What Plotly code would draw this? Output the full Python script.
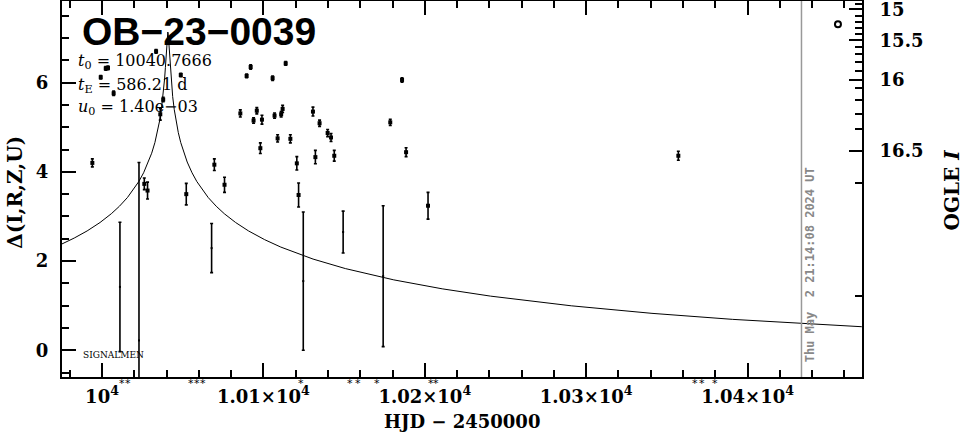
import plotly.graph_objects as go

# ---------------- data ----------------
# well-measured points (filled squares, small error bars)
sq_t = [9994.0, 9999.2, 10002.3, 10003.7, 10007.2, 10026.2, 10028.2, 10033.5, 10036.1, 10037.9,
        10048.8, 10052.2, 10069.6, 10075.9, 10085.7, 10089.6, 10092.1, 10093.9, 10095.9, 10098.1,
        10099.1, 10105.7, 10106.9, 10108.8, 10111.0, 10111.9, 10113.8, 10116.7, 10120.7, 10121.8,
        10130.7, 10132.2, 10134.8, 10139.8, 10141.9, 10143.9, 10178.6, 10185.9, 10188.4, 10202.0,
        10357.1]
sq_v = [4.20, 6.12, 6.32, 6.33, 5.76, 3.73, 3.58, 6.70, 5.29, 5.62,
        6.17, 3.50, 4.16, 3.71, 5.31, 6.15, 6.35, 5.15, 5.37, 4.53,
        5.17, 6.10, 5.26, 4.75, 5.29, 5.41, 6.43, 4.74, 4.19, 3.48,
        5.35, 4.33, 5.09, 4.87, 4.77, 4.36, 5.11, 6.06, 4.44, 3.24,
        4.36]
sq_e = [0.09, 0.04, 0.04, 0.04, 0.05, 0.13, 0.19, 0.04, 0.13, 0.05,
        0.04, 0.24, 0.13, 0.17, 0.08, 0.04, 0.05, 0.06, 0.07, 0.12,
        0.10, 0.05, 0.06, 0.08, 0.06, 0.08, 0.04, 0.09, 0.15, 0.27,
        0.10, 0.15, 0.07, 0.08, 0.09, 0.12, 0.07, 0.05, 0.10, 0.30,
        0.10]

# poorly-measured points (large error bars)
big_t = [10011.1, 10022.9, 10067.9, 10124.7, 10149.4, 10174.2]
big_v = [1.42, 0.22, 2.29, 1.55, 2.65, 1.66]
big_e = [1.45, 3.99, 0.55, 1.55, 0.47, 1.58]

# open circle at top right
circ_t = [10456.0]
circ_v = [7.31]

# model curve
curve_t = [9975.00, 9982.77, 9990.77, 9998.77, 10005.77, 10010.77, 10015.77, 10022.77,
           10025.77, 10028.77, 10030.77, 10032.77, 10034.27, 10035.77, 10036.77, 10037.77,
           10038.27, 10038.77, 10039.27, 10039.77, 10040.27, 10040.52, 10040.77,
           10041.02, 10041.27, 10041.77, 10042.27, 10042.77, 10043.27, 10043.77, 10044.77,
           10045.77, 10047.27, 10048.77, 10050.77, 10052.77, 10055.77, 10058.77, 10065.77,
           10070.77, 10075.77, 10082.77, 10090.77, 10100.77, 10110.77, 10130.77, 10150.77,
           10180.77, 10210.77, 10240.77, 10290.77, 10340.77, 10390.77, 10440.77, 10470.77]
curve_v = [2.380, 2.515, 2.675, 2.864, 3.061, 3.228, 3.425, 3.781,
           3.979, 4.220, 4.417, 4.657, 4.879, 5.158, 5.393, 5.688,
           5.870, 6.083, 6.338, 6.641, 6.963, 7.087, 7.134,
           7.087, 6.963, 6.641, 6.338, 6.083, 5.870, 5.688, 5.393,
           5.158, 4.879, 4.657, 4.417, 4.220, 3.979, 3.781, 3.425,
           3.228, 3.061, 2.864, 2.675, 2.479, 2.313, 2.044, 1.831,
           1.578, 1.377, 1.213, 0.996, 0.827, 0.692, 0.582, 0.527]

# star marks below the time axis
star_t = [10012.6, 10016.3, 10055.3, 10059.0, 10062.8, 10123.5, 10153.8, 10158.8,
          10170.6, 10204.0, 10207.2, 10367.6, 10372.0, 10380.0]

# axis ticks
x_tickvals = [10000, 10100, 10200, 10300, 10400]
x_ticktext = ["10<sup>4</sup>", "1.01×10<sup>4</sup>", "1.02×10<sup>4</sup>",
              "1.03×10<sup>4</sup>", "1.04×10<sup>4</sup>"]
x_minor = [9980, 10020, 10040, 10060, 10080, 10120, 10140, 10160, 10180, 10220, 10240,
           10260, 10280, 10320, 10340, 10360, 10380, 10420, 10440, 10460]
y_tickvals = [0, 2, 4, 6]
y_minor = [-0.5, 0.5, 1, 1.5, 2.5, 3, 3.5, 4.5, 5, 5.5, 6.5, 7, 7.5]

# right axis: OGLE I magnitudes and their positions on the left scale
mag_labels = ["15", "15.5", "16", "16.5"]
mag_pos = [7.64, 6.95, 6.07, 4.47]
mag_minor_pos = [7.76, 7.49, 7.36, 7.23, 7.10, 6.79, 6.64, 6.47, 6.26,
                 5.88, 5.61, 5.30, 4.97, 3.74, 1.21]

now_t = 10433.4
params = ["<i>t</i><sub>0</sub> = 10040.7666", "<i>t</i><sub>E</sub> = 586.21 d",
          "<i>u</i><sub>0</sub> = 1.40e−03"]

X_RANGE = [9975.2, 10470.9]
Y_RANGE = [-0.6, 7.83]

# ---------------- figure ----------------
fig = go.Figure()

fig.add_trace(go.Scatter(x=curve_t, y=curve_v, mode="lines",
                         line=dict(color="black", width=1), hoverinfo="skip"))

fig.add_trace(go.Scatter(x=big_t, y=big_v, mode="markers",
                         marker=dict(symbol="square", size=2, color="black"),
                         error_y=dict(type="data", array=big_e, color="black",
                                      thickness=1.6, width=1.5)))

fig.add_trace(go.Scatter(x=sq_t, y=sq_v, mode="markers",
                         marker=dict(symbol="square", size=4, color="black"),
                         error_y=dict(type="data", array=sq_e, color="black",
                                      thickness=1.6, width=1.5)))

fig.add_trace(go.Scatter(x=circ_t, y=circ_v, mode="markers",
                         marker=dict(symbol="circle-open", size=6, color="black",
                                     line=dict(width=2, color="black"))))

# dummy trace so the right axis is drawn
fig.add_trace(go.Scatter(x=[X_RANGE[0]], y=[-5], yaxis="y2", mode="markers",
                         marker=dict(size=1, color="rgba(0,0,0,0)"), hoverinfo="skip"))

fig.add_shape(type="line", xref="x", yref="paper", x0=now_t, x1=now_t, y0=0, y1=1,
              line=dict(color="#999999", width=1.5))

tickfont = dict(family="DejaVu Serif", size=18, color="black", weight="bold")

fig.update_layout(
    width=965, height=434,
    margin=dict(l=62, r=103, t=1, b=57),
    paper_bgcolor="white", plot_bgcolor="white",
    showlegend=False,
    xaxis=dict(range=X_RANGE, showgrid=False, zeroline=False, automargin=False,
               showline=True, linecolor="black", linewidth=2, mirror="ticks",
               ticks="inside", ticklen=14, tickwidth=2, tickcolor="black",
               tickmode="array", tickvals=x_tickvals, ticktext=x_ticktext,
               tickfont=tickfont, ticklabelstandoff=2,
               minor=dict(tickmode="array", tickvals=x_minor, ticks="inside",
                          ticklen=7, tickwidth=2, tickcolor="black")),
    yaxis=dict(range=Y_RANGE, showgrid=False, zeroline=False, automargin=False,
               showline=True, linecolor="black", linewidth=2,
               ticks="inside", ticklen=14, tickwidth=2, tickcolor="black",
               tickmode="array", tickvals=y_tickvals,
               tickfont=tickfont, ticklabelstandoff=8,
               minor=dict(tickmode="array", tickvals=y_minor, ticks="inside",
                          ticklen=7, tickwidth=2, tickcolor="black")),
    yaxis2=dict(range=Y_RANGE, overlaying="y", side="right", showgrid=False,
                zeroline=False, automargin=False, showline=True, linecolor="black",
                linewidth=2, ticks="inside", ticklen=13, tickwidth=2, tickcolor="black",
                tickmode="array", tickvals=mag_pos, ticktext=mag_labels,
                tickfont=tickfont, ticklabelstandoff=12, ticklabeloverflow="allow",
                minor=dict(tickmode="array", tickvals=mag_minor_pos, ticks="inside",
                           ticklen=7, tickwidth=2, tickcolor="black")),
)

ann = []
ann.append(dict(text="OB−23−0039", xref="paper", yref="paper", x=0.023, y=0.918,
                xanchor="left", yanchor="middle", showarrow=False,
                font=dict(family="Liberation Sans", size=39, color="black", weight="bold")))
for i, p in enumerate(params):
    ann.append(dict(text=p, xref="paper", yref="paper", x=0.018, y=[0.840, 0.776, 0.717][i],
                    xanchor="left", yanchor="middle", showarrow=False,
                    font=dict(family="DejaVu Serif", size=16, color="black")))
ann.append(dict(text="SIGNALMEN", xref="paper", yref="paper", x=0.024, y=0.059,
                xanchor="left", yanchor="middle", showarrow=False,
                font=dict(family="DejaVu Serif", size=9, color="black")))
for st in star_t:
    ann.append(dict(text="*", xref="x", yref="paper", x=st, y=0, yanchor="top",
                    yshift=2, showarrow=False,
                    font=dict(family="DejaVu Sans", size=11, color="black")))
ann.append(dict(text="HJD\u00a0−\u00a02450000", xref="paper", yref="paper", x=0.5, y=0,
                xanchor="center", yanchor="middle", yshift=-44, showarrow=False,
                font=dict(family="DejaVu Serif", size=18, color="black", weight="bold")))
ann.append(dict(text="Δ(I,R,Z,U)", xref="paper", yref="paper", x=-0.059, y=0.492,
                xanchor="center", yanchor="middle", textangle=-90, showarrow=False,
                font=dict(family="DejaVu Serif", size=20, color="black", weight="bold")))
ann.append(dict(text="OGLE <i>I</i>", xref="paper", yref="paper", x=1.113, y=0.497,
                xanchor="center", yanchor="middle", textangle=-90, showarrow=False,
                font=dict(family="DejaVu Serif", size=20, color="black", weight="bold")))
ann.append(dict(text="Thu May\u00a0\u00a02 21:14:08 2024 UT", xref="paper", yref="paper",
                x=0.935, y=0.297, xanchor="center", yanchor="middle", textangle=-90,
                showarrow=False,
                font=dict(family="DejaVu Sans Mono", size=12, color="#888888", weight="bold")))
fig.update_layout(annotations=ann)

fig.write_html("out.html", config={"displayModeBar": False},
               post_script="document.body.style.margin='0';document.body.style.overflow='hidden';")
